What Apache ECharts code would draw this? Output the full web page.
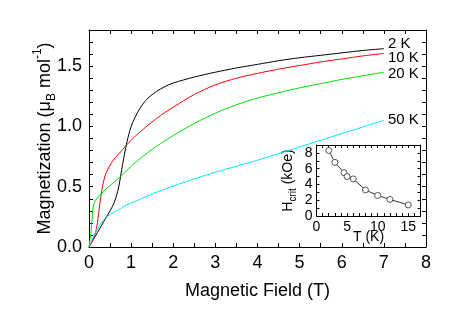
<!DOCTYPE html>
<html>
<head>
<meta charset="utf-8">
<script src="https://cdn.jsdelivr.net/npm/echarts@6/dist/echarts.min.js"></script>
<style>
  html, body { margin: 0; padding: 0; background: #fff; }
  #main { width: 449px; height: 321px; }
</style>
</head>
<body>
<div id="main"></div>
<script>
// magnetic field (T), shared by all four curves
var field = [0, 0.05, 0.1, 0.15, 0.2, 0.25, 0.3, 0.35, 0.4, 0.5, 0.6, 0.7, 0.8, 0.9, 1.0, 1.1, 1.2, 1.3, 1.4, 1.6, 1.8, 2.0, 2.5, 3, 3.5, 4, 4.5, 5, 5.5, 6, 6.5, 7];
var m2K  = [0, 0.03, 0.06, 0.09, 0.12, 0.15, 0.18, 0.21, 0.24, 0.30, 0.37, 0.49, 0.69, 0.87, 1.00, 1.08, 1.145, 1.195, 1.235, 1.29, 1.33, 1.36, 1.41, 1.45, 1.485, 1.515, 1.545, 1.57, 1.59, 1.61, 1.63, 1.645];
var m10K = [0, 0.03, 0.07, 0.11, 0.20, 0.34, 0.46, 0.55, 0.61, 0.68, 0.73, 0.77, 0.81, 0.85, 0.885, 0.92, 0.95, 0.98, 1.01, 1.065, 1.115, 1.16, 1.265, 1.345, 1.40, 1.44, 1.475, 1.505, 1.535, 1.56, 1.585, 1.605];
var m20K = [0, 0.13, 0.33, 0.385, 0.41, 0.43, 0.447, 0.463, 0.48, 0.51, 0.54, 0.57, 0.60, 0.635, 0.67, 0.70, 0.73, 0.757, 0.785, 0.835, 0.88, 0.925, 1.025, 1.11, 1.18, 1.235, 1.28, 1.32, 1.355, 1.39, 1.42, 1.45];
var m50K = [0, 0.04, 0.08, 0.115, 0.15, 0.18, 0.205, 0.225, 0.245, 0.27, 0.29, 0.31, 0.33, 0.35, 0.365, 0.38, 0.395, 0.41, 0.425, 0.455, 0.48, 0.505, 0.565, 0.62, 0.67, 0.72, 0.775, 0.83, 0.885, 0.94, 0.995, 1.05];

// inset: critical field vs temperature
var tempK = [2, 3, 4.5, 5, 6, 8, 10, 12, 15];
var hCrit = [8.3, 6.8, 5.5, 5.0, 4.7, 3.3, 2.6, 2.1, 1.4];

var FONT = '"Liberation Sans", Arial, sans-serif';

function pairs(xs, ys) {
  return xs.map(function (x, i) { return [x, ys[i]]; });
}

function frameAxis(grid, pos, min, max, step, tickLen, labels) {
  return {
    type: 'value', gridIndex: grid, position: pos,
    min: min, max: max, interval: step,
    axisLine: { show: true, onZero: false, lineStyle: { color: '#000', width: 1 } },
    axisTick: { show: true, inside: true, length: tickLen, lineStyle: { color: '#000', width: 1 } },
    splitLine: { show: false },
    axisLabel: labels || { show: false }
  };
}

var chart = echarts.init(document.getElementById('main'), null, { renderer: 'canvas' });

var xMain = frameAxis(0, 'bottom', 0, 8, 0.5, 4, {
  show: true, fontSize: 18, fontFamily: FONT, color: '#000', margin: 7,
  formatter: function (v) { return Math.abs(v - Math.round(v)) < 1e-6 ? String(Math.round(v)) : ''; }
});
xMain.name = 'Magnetic Field (T)';
xMain.nameLocation = 'middle';
xMain.nameGap = 35;
xMain.nameMoveOverlap = false;
xMain.nameTextStyle = { fontSize: 18, fontFamily: FONT, color: '#000' };

var yMain = frameAxis(0, 'left', 0, 1.8, 0.1, 4, {
  show: true, fontSize: 18, fontFamily: FONT, color: '#000', margin: 7,
  formatter: function (v) { return Math.abs(v * 2 - Math.round(v * 2)) < 1e-6 ? v.toFixed(1) : ''; }
});
yMain.name = 'Magnetization (μ{sub|B} mol{sup|-1})';
yMain.nameLocation = 'middle';
yMain.nameGap = 31;
yMain.nameMoveOverlap = false;
yMain.nameTextStyle = {
  fontSize: 18, fontFamily: FONT, color: '#000', lineHeight: 26,
  rich: {
    sub: { fontSize: 12, fontFamily: FONT, color: '#000', lineHeight: 12, verticalAlign: 'bottom' },
    sup: { fontSize: 12, fontFamily: FONT, color: '#000', lineHeight: 12, verticalAlign: 'top' }
  }
};

var xIn = frameAxis(1, 'bottom', 0, 17, 1, 3, {
  show: true, fontSize: 14, fontFamily: FONT, color: '#000', margin: 4,
  formatter: function (v) { return v % 5 === 0 ? String(v) : ''; }
});
xIn.name = 'T (K)';
xIn.nameLocation = 'middle';
xIn.nameGap = 14;
xIn.nameMoveOverlap = false;
xIn.nameTextStyle = { fontSize: 14, fontFamily: FONT, color: '#000' };

var yIn = frameAxis(1, 'left', 0, 9, 1, 3, {
  show: true, fontSize: 14, fontFamily: FONT, color: '#000', margin: 4,
  formatter: function (v) { return v % 2 === 0 ? String(v) : ''; }
});
yIn.name = 'H{sub|crit} (kOe)';
yIn.nameLocation = 'middle';
yIn.nameGap = 18;
yIn.nameMoveOverlap = false;
yIn.nameTextStyle = {
  fontSize: 14, fontFamily: FONT, color: '#000', lineHeight: 20,
  rich: { sub: { fontSize: 10, fontFamily: FONT, color: '#000', lineHeight: 10, verticalAlign: 'bottom' } }
};

function curve(name, ys, color, dy) {
  return {
    name: name, type: 'line', xAxisIndex: 0, yAxisIndex: 0,
    data: pairs(field, ys),
    smooth: 0.3,
    showSymbol: false, symbol: 'none',
    lineStyle: { color: color, width: 1 },
    animation: false,
    endLabel: {
      show: true, formatter: '{a}', fontSize: 15, fontFamily: FONT,
      color: '#000', distance: 4, offset: [0, dy]
    }
  };
}

var option = {
  backgroundColor: '#fff',
  animation: false,
  grid: [
    { left: 89, top: 30, width: 337, height: 217 },
    { left: 316.5, top: 145, width: 104, height: 71, show: true, backgroundColor: '#fff', borderWidth: 0 }
  ],
  xAxis: [
    xMain,
    frameAxis(0, 'top', 0, 8, 0.5, 4),
    xIn,
    frameAxis(1, 'top', 0, 17, 1, 3)
  ],
  yAxis: [
    yMain,
    frameAxis(0, 'right', 0, 1.8, 0.1, 4),
    yIn,
    frameAxis(1, 'right', 0, 9, 1, 3)
  ],
  series: [
    curve('2 K', m2K, '#000000', -5),
    curve('10 K', m10K, '#ff0000', 4),
    curve('20 K', m20K, '#00dd00', 2),
    curve('50 K', m50K, '#00e5ff', -1),
    {
      name: 'Hcrit', type: 'line', xAxisIndex: 2, yAxisIndex: 2,
      data: pairs(tempK, hCrit),
      symbol: 'circle', symbolSize: 6,
      lineStyle: { color: '#000', width: 0.8 },
      itemStyle: { color: '#fff', borderColor: '#555', borderWidth: 1 },
      animation: false
    }
  ]
};

chart.setOption(option);
</script>
</body>
</html>
